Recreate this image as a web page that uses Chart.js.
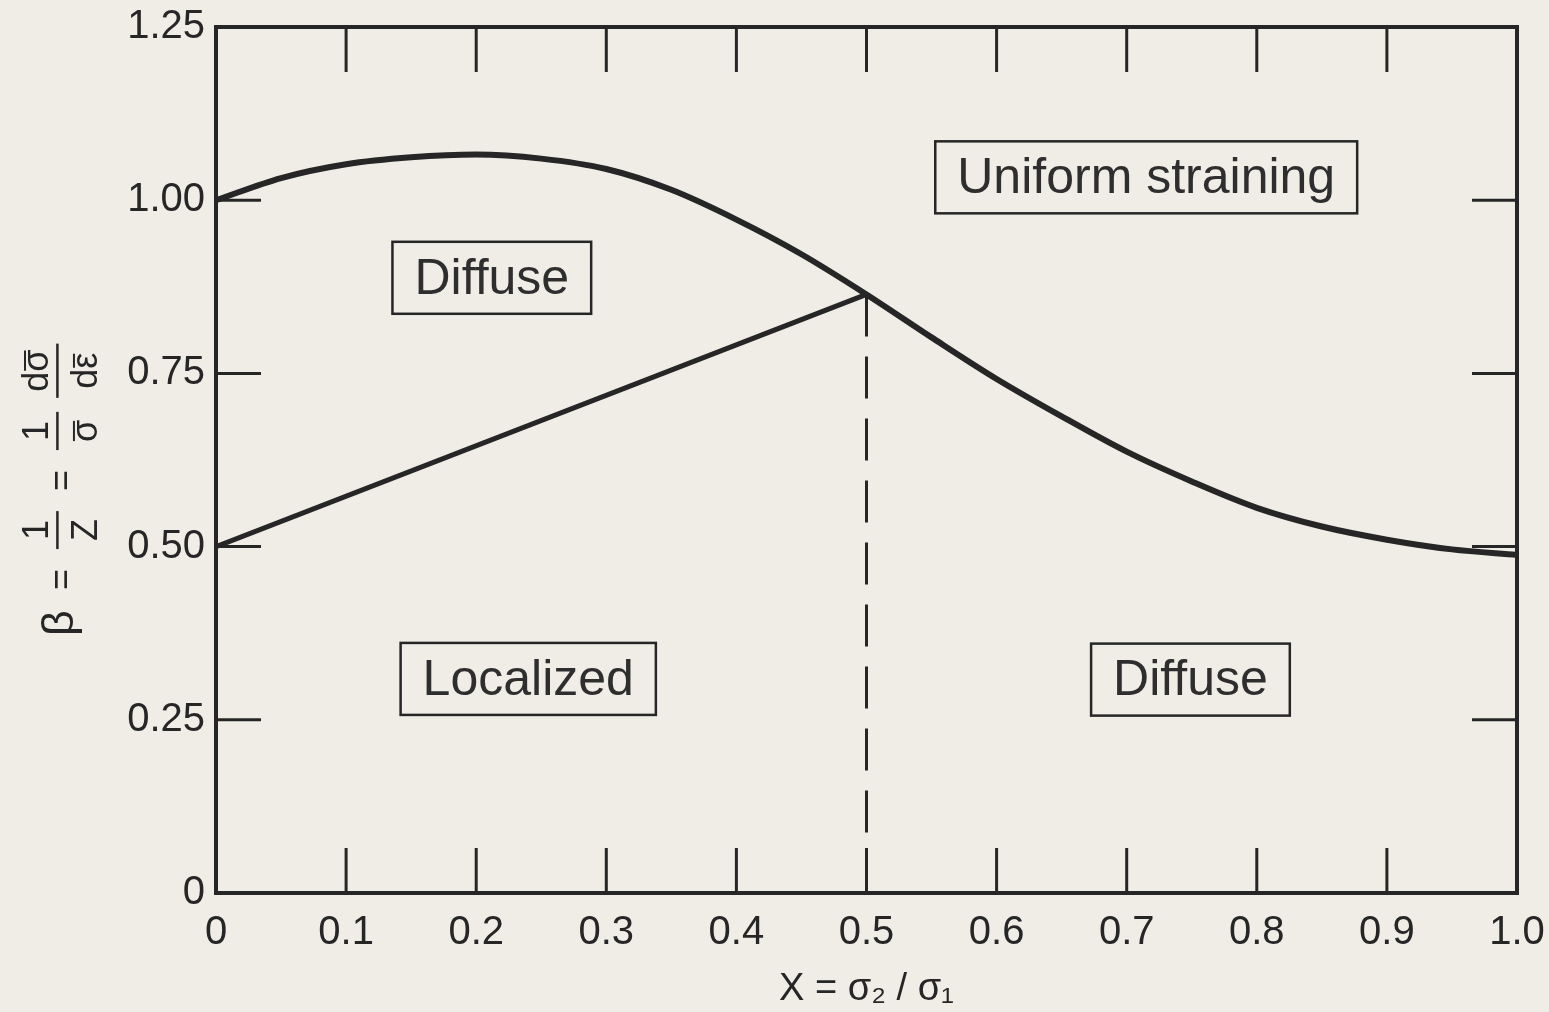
<!DOCTYPE html>
<html>
<head>
<meta charset="utf-8">
<title>Diffuse and localized necking limits</title>
<script src="https://cdn.jsdelivr.net/npm/chart.js@4.4.1/dist/chart.umd.min.js"></script>
<style>
  html, body { margin: 0; padding: 0; background: #efede6; }
  canvas { display: block; }
</style>
</head>
<body>
<canvas id="neckingChart" width="1549" height="1012"></canvas>
<script>
// stress ratio X = sigma2 / sigma1
const xValues = [0, 0.05, 0.1, 0.15, 0.2, 0.25, 0.3, 0.35, 0.4, 0.45, 0.5,
                 0.55, 0.6, 0.65, 0.7, 0.75, 0.8, 0.85, 0.9, 0.95, 1.0];
// diffuse necking limit, beta = 1/Z
const diffuseBeta = [1.000, 1.032, 1.052, 1.062, 1.066, 1.060, 1.045, 1.015, 0.972, 0.922, 0.864,
                     0.802, 0.742, 0.688, 0.637, 0.594, 0.556, 0.529, 0.510, 0.496, 0.488];
// localized necking limit (valid up to X = 0.5)
const localizedX = [0, 0.5];
const localizedBeta = [0.5, 0.864];
// boundary between the two lower regions
const dividerX = [0.5, 0.5];
const dividerBeta = [0.864, 0];

const xTickValues = [0, 0.1, 0.2, 0.3, 0.4, 0.5, 0.6, 0.7, 0.8, 0.9, 1.0];
const xTickLabels = ['0', '0.1', '0.2', '0.3', '0.4', '0.5', '0.6', '0.7', '0.8', '0.9', '1.0'];
const yTickValues = [0, 0.25, 0.5, 0.75, 1.0, 1.25];
const yTickLabels = ['0', '0.25', '0.50', '0.75', '1.00', '1.25'];

const regionNames = ['Diffuse', 'Uniform straining', 'Localized', 'Diffuse'];

const INK = '#262626';
const PAPER = '#efede6';
const FONT = '"Liberation Sans", Arial, sans-serif';

const toPoints = (xs, ys) => xs.map((x, i) => ({ x: x, y: ys[i] }));

const paperPlugin = {
  id: 'paper',
  beforeDraw(chart) {
    const ctx = chart.ctx;
    ctx.save();
    ctx.fillStyle = PAPER;
    ctx.fillRect(0, 0, chart.width, chart.height);
    ctx.restore();
  }
};

// box around the plot with tick marks pointing inward on all four sides
const framePlugin = {
  id: 'frame',
  afterDatasetsDraw(chart, args, opts) {
    const { ctx, chartArea: a, scales } = chart;
    ctx.save();
    ctx.strokeStyle = INK;
    ctx.lineWidth = opts.tickWidth;
    ctx.beginPath();
    xTickValues.slice(1, -1).forEach(v => {
      const px = scales.x.getPixelForValue(v);
      ctx.moveTo(px, a.bottom); ctx.lineTo(px, a.bottom - opts.tickLength);
      ctx.moveTo(px, a.top); ctx.lineTo(px, a.top + opts.tickLength);
    });
    yTickValues.slice(1, -1).forEach(v => {
      const py = scales.y.getPixelForValue(v);
      ctx.moveTo(a.left, py); ctx.lineTo(a.left + opts.tickLength, py);
      ctx.moveTo(a.right, py); ctx.lineTo(a.right - opts.tickLength, py);
    });
    ctx.stroke();
    ctx.lineWidth = opts.frameWidth;
    ctx.strokeRect(a.left, a.top, a.right - a.left, a.bottom - a.top);
    ctx.restore();
  }
};

// boxed region names, anchored in data units
const regionPlugin = {
  id: 'regions',
  afterDatasetsDraw(chart, args, opts) {
    const { ctx, scales } = chart;
    ctx.save();
    ctx.font = opts.size + 'px ' + FONT;
    ctx.textAlign = 'center';
    ctx.textBaseline = 'middle';
    ctx.strokeStyle = INK;
    ctx.lineWidth = 2.5;
    regionNames.forEach((name, i) => {
      const [vx, vy] = opts.anchors[i];
      const cx = scales.x.getPixelForValue(vx);
      const cy = scales.y.getPixelForValue(vy);
      const w = ctx.measureText(name).width + 2 * opts.padX;
      const h = opts.boxHeight;
      ctx.fillStyle = PAPER;
      ctx.fillRect(cx - w / 2, cy - h / 2, w, h);
      ctx.strokeRect(cx - w / 2, cy - h / 2, w, h);
      ctx.fillStyle = '#2e2e2e';
      ctx.fillText(name, cx, cy + 2);
    });
    ctx.restore();
  }
};

// y-axis title: beta = 1/Z = (1/sigma-bar) dsigma-bar/depsilon-bar, written sideways
const yTitlePlugin = {
  id: 'yTitle',
  afterDraw(chart, args, opts) {
    const ctx = chart.ctx;
    const fs = opts.size;
    ctx.save();
    ctx.translate(opts.x, opts.y);
    ctx.rotate(-Math.PI / 2);
    ctx.font = fs + 'px ' + FONT;
    ctx.fillStyle = INK;
    ctx.strokeStyle = INK;
    ctx.textBaseline = 'alphabetic';
    ctx.textAlign = 'left';

    const base = 0.34 * fs;       // main line baseline, "=" centred on 0
    const numBase = -0.36 * fs;   // numerator baseline
    const denBase = 1.0 * fs;     // denominator baseline
    const barY = -0.1 * fs;

    const overbar = (x0, w, yb) => {
      const y = yb - 0.64 * fs;
      ctx.lineWidth = 2;
      ctx.beginPath();
      ctx.moveTo(x0 + 1, y); ctx.lineTo(x0 + w - 1, y);
      ctx.stroke();
    };
    // parts: [text, has overbar]
    const drawPart = (parts, xc, yb) => {
      const total = parts.reduce((s, p) => s + ctx.measureText(p[0]).width, 0);
      let x = xc - total / 2;
      parts.forEach(([t, bar]) => {
        const w = ctx.measureText(t).width;
        ctx.fillText(t, x, yb);
        if (bar) overbar(x, w, yb);
        x += w;
      });
    };
    const frac = (x, num, den, extra) => {
      const wn = num.reduce((s, p) => s + ctx.measureText(p[0]).width, 0);
      const wd = den.reduce((s, p) => s + ctx.measureText(p[0]).width, 0);
      const w = Math.max(wn, wd) + extra;
      drawPart(num, x + w / 2, numBase);
      drawPart(den, x + w / 2, denBase);
      ctx.lineWidth = 2.5;
      ctx.beginPath();
      ctx.moveTo(x, barY); ctx.lineTo(x + w, barY);
      ctx.stroke();
      return w;
    };
    const word = (x, t) => {
      ctx.fillText(t, x, base);
      return ctx.measureText(t).width;
    };

    let x = 0;
    ctx.font = (fs * 1.25) + 'px ' + FONT;
    x += word(x, 'β') + opts.gap;
    ctx.font = fs + 'px ' + FONT;
    x += word(x, '=') + opts.gap;
    x += frac(x, [['1']], [['Z']], 16) + opts.gap;
    x += word(x, '=') + opts.gap;
    x += frac(x, [['1']], [['σ', true]], 16) + opts.gap * 0.7;
    frac(x, [['d'], ['σ', true]], [['d'], ['ε', true]], 12);
    ctx.restore();
  }
};

new Chart(document.getElementById('neckingChart'), {
  type: 'scatter',
  data: {
    datasets: [
      {
        label: 'Diffuse necking',
        data: toPoints(xValues, diffuseBeta),
        showLine: true,
        borderColor: INK,
        borderWidth: 6,
        cubicInterpolationMode: 'monotone',
        pointRadius: 0
      },
      {
        label: 'Localized necking',
        data: toPoints(localizedX, localizedBeta),
        showLine: true,
        borderColor: INK,
        borderWidth: 5,
        pointRadius: 0
      },
      {
        label: 'X = 0.5',
        data: toPoints(dividerX, dividerBeta),
        showLine: true,
        borderColor: INK,
        borderWidth: 3,
        borderDash: [42, 20],
        pointRadius: 0
      }
    ]
  },
  options: {
    responsive: false,
    animation: false,
    devicePixelRatio: 1,
    layout: { padding: { left: 0, top: 27, right: 32, bottom: 0 } },
    plugins: {
      legend: { display: false },
      tooltip: { enabled: false },
      frame: { tickLength: 45, tickWidth: 3, frameWidth: 4 },
      regions: {
        size: 50,
        padX: 22,
        boxHeight: 72,
        anchors: [[0.212, 0.888], [0.715, 1.033], [0.240, 0.309], [0.749, 0.308]]
      },
      yTitle: { x: 61, y: 636, size: 36, gap: 20 }
    },
    scales: {
      x: {
        type: 'linear',
        min: 0,
        max: 1.0,
        afterBuildTicks: s => { s.ticks = xTickValues.map(v => ({ value: v })); },
        afterFit: s => { s.height = 119; s.paddingLeft = 0; s.paddingRight = 0; },
        grid: { display: false, drawTicks: false },
        border: { display: false },
        ticks: {
          autoSkip: false,
          maxRotation: 0,
          padding: 16,
          color: INK,
          font: { family: FONT, size: 40 },
          callback: (v, i) => xTickLabels[i]
        },
        title: {
          display: true,
          text: 'X = σ₂ / σ₁',
          color: INK,
          font: { family: FONT, size: 38 },
          padding: { top: 0, bottom: 0 }
        }
      },
      y: {
        type: 'linear',
        min: 0,
        max: 1.25,
        afterBuildTicks: s => { s.ticks = yTickValues.map(v => ({ value: v })); },
        afterFit: s => { s.width = 216; s.paddingTop = 0; s.paddingBottom = 0; },
        grid: { display: false, drawTicks: false },
        border: { display: false },
        ticks: {
          padding: 11,
          color: INK,
          font: { family: FONT, size: 40 },
          callback: (v, i) => yTickLabels[i]
        }
      }
    }
  },
  plugins: [paperPlugin, framePlugin, regionPlugin, yTitlePlugin]
});
</script>
</body>
</html>
